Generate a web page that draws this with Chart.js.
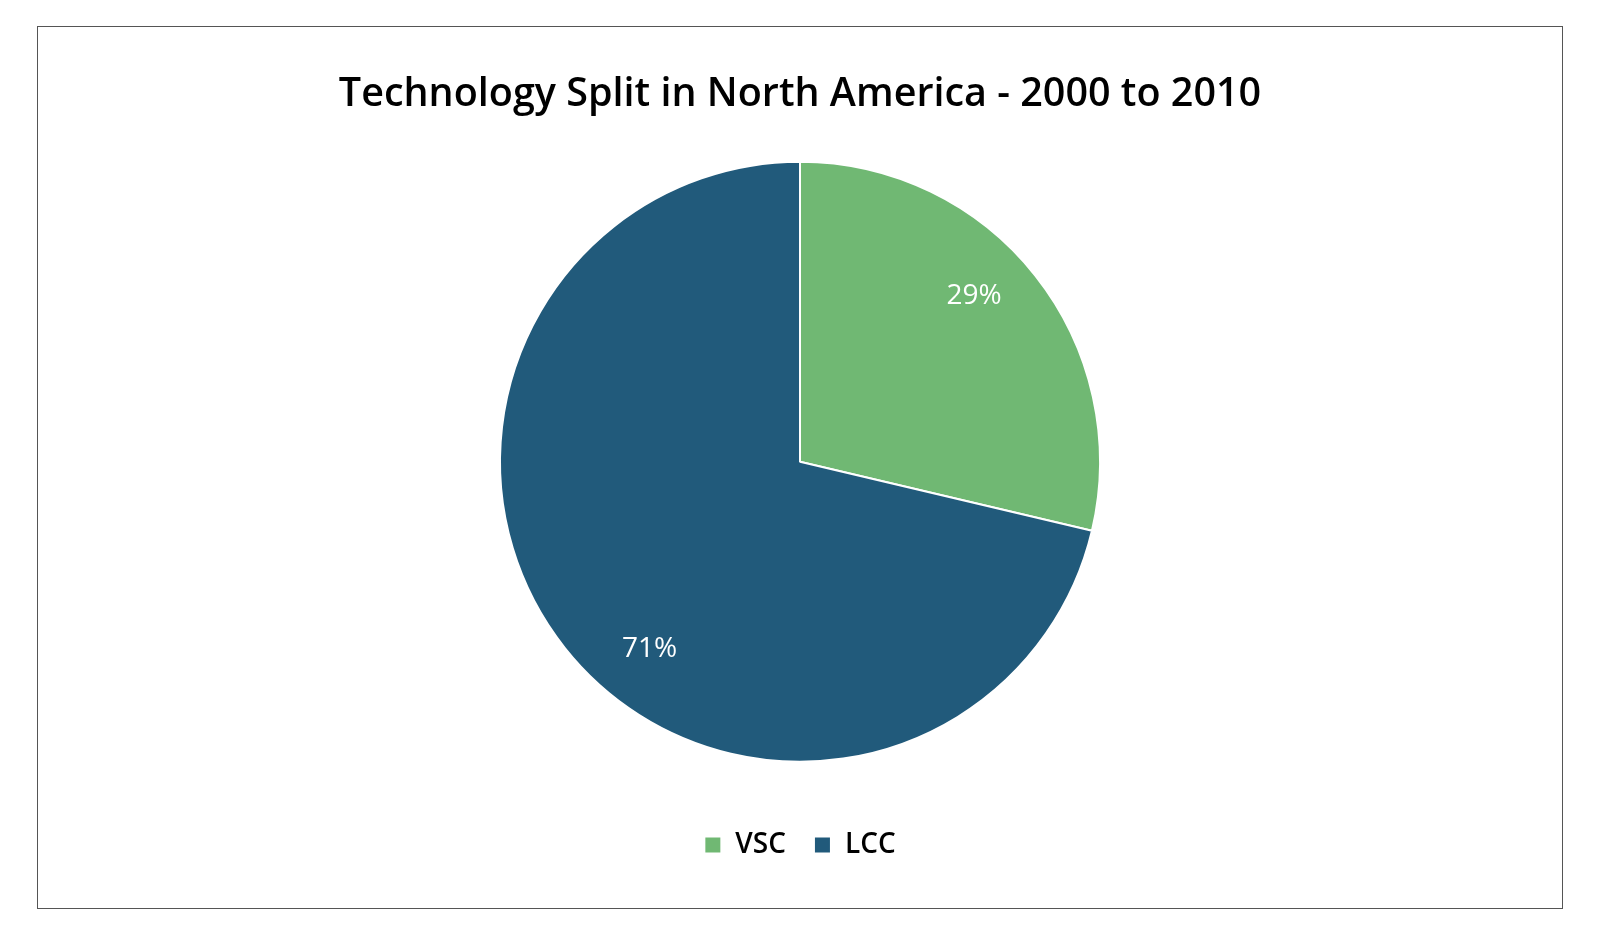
<!DOCTYPE html>
<html lang="en">
<head>
    <meta charset="UTF-8">
    <title>Technology Split in North America - 2000 to 2010</title>
    <script src="https://cdn.jsdelivr.net/npm/chart.js"></script>
    <style>
        html, body { margin: 0; padding: 0; background: #fff; }
        .chart-box { position: absolute; left: 37px; top: 26px; width: 1524px; height: 881px; border: 1px solid #555; }
        .chart-box canvas { display: block; }
    </style>
</head>
<body>
    <div class="chart-box">
        <canvas id="techChart"></canvas>
    </div>
    <script>
        const categories = ['VSC', 'LCC'];
        const shares = [28.7, 71.3];
        const sliceColors = ['#70b873', '#215a7b'];

        // percentage labels inside the slices
        const sliceLabels = {
            id: 'sliceLabels',
            afterDatasetsDraw(chart) {
                const ctx = chart.ctx;
                const meta = chart.getDatasetMeta(0);
                const total = shares.reduce((a, b) => a + b, 0);
                ctx.save();
                ctx.font = '500 28px "Open Sans", "Noto Sans", sans-serif';
                ctx.fillStyle = '#ffffff';
                ctx.textAlign = 'center';
                ctx.textBaseline = 'middle';
                meta.data.forEach((arc, i) => {
                    const p = arc.getProps(['x', 'y', 'startAngle', 'endAngle', 'outerRadius'], true);
                    const a = p.startAngle + (p.endAngle - p.startAngle) * 0.45;
                    const r = p.outerRadius * 0.8;
                    const txt = Math.round(shares[i] / total * 100) + '%';
                    ctx.fillText(txt, p.x + Math.cos(a) * r, p.y + Math.sin(a) * r);
                });
                ctx.restore();
            }
        };

        new Chart(document.getElementById('techChart'), {
            type: 'pie',
            data: {
                labels: categories,
                datasets: [{
                    data: shares,
                    backgroundColor: sliceColors,
                    borderColor: '#ffffff',
                    borderWidth: 2,
                    radius: 300
                }]
            },
            options: {
                responsive: true,
                maintainAspectRatio: false,
                animation: false,
                layout: { padding: { top: 0, bottom: 39 } },
                plugins: {
                    title: {
                        display: true,
                        text: 'Technology Split in North America - 2000 to 2010',
                        color: '#000000',
                        font: { family: '"Open Sans", "Noto Sans", sans-serif', size: 39.5, weight: '600' },
                        padding: { top: 44, bottom: 2 }
                    },
                    legend: {
                        position: 'bottom',
                        labels: {
                            color: '#000000',
                            font: { family: '"Open Sans", "Noto Sans", sans-serif', size: 28, weight: '600' },
                            boxWidth: 17,
                            boxHeight: 17,
                            padding: 28
                        }
                    },
                    tooltip: { enabled: false }
                }
            },
            plugins: [sliceLabels]
        });
    </script>
</body>
</html>
